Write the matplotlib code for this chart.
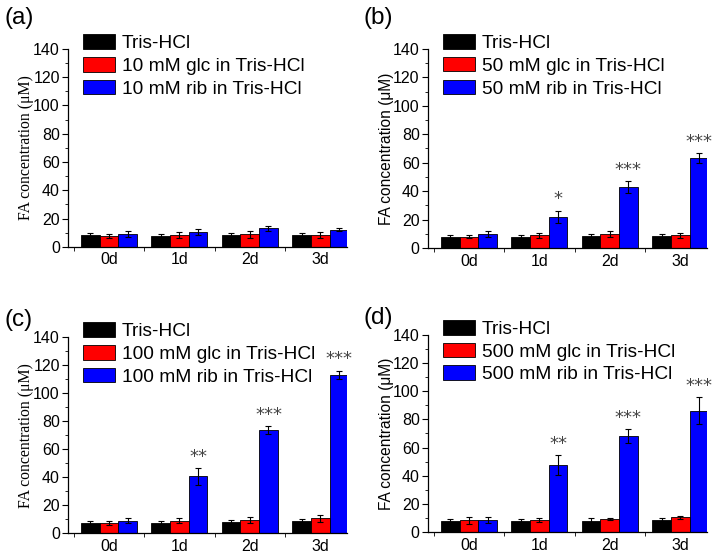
import numpy as np
import matplotlib.pyplot as plt
from matplotlib.ticker import MultipleLocator, FixedLocator, NullFormatter

plt.rcParams['font.family'] = ['Liberation Sans', 'DejaVu Sans']

days = ['0d', '1d', '2d', '3d']
panels = ['(a)', '(b)', '(c)', '(d)']
concs = ['10', '50', '100', '500']

# Tris-HCl control
tris = [[8.2, 8.0, 8.5, 8.5],
        [8.0, 7.8, 8.2, 8.5],
        [7.5, 7.5, 8.0, 8.5],
        [8.0, 8.0, 8.0, 8.5]]
tris_err = [[1.5, 1.2, 1.5, 1.5],
            [1.2, 1.5, 1.5, 1.5],
            [1.5, 1.5, 1.5, 1.5],
            [1.0, 1.0, 2.0, 1.5]]

# glucose
glc = [[7.5, 8.5, 9.0, 8.5],
       [8.0, 8.8, 9.6, 8.8],
       [7.5, 9.0, 9.5, 10.5],
       [8.5, 8.5, 9.0, 10.5]]
glc_err = [[1.5, 2.0, 2.5, 2.0],
           [1.2, 2.0, 2.0, 1.5],
           [1.5, 1.5, 2.0, 2.5],
           [2.5, 1.5, 0.7, 1.2]]

# ribose
rib = [[9.2, 10.5, 13.0, 12.0],
       [9.8, 21.8, 43.0, 63.0],
       [9.0, 40.5, 73.5, 113.0],
       [8.5, 47.5, 68.0, 86.0]]
rib_err = [[2.0, 2.0, 2.0, 1.0],
           [2.0, 4.5, 4.0, 3.5],
           [2.0, 6.0, 3.0, 3.0],
           [2.0, 7.0, 5.0, 9.5]]

stars = [['', '', '', ''],
         ['', '*', '***', '***'],
         ['', '**', '***', '***'],
         ['', '**', '***', '***']]

# axes boxes in figure fractions [left, bottom, width, height]
boxes = [[0.095, 0.556, 0.389, 0.356],
         [0.597, 0.554, 0.389, 0.358],
         [0.095, 0.041, 0.389, 0.353],
         [0.597, 0.043, 0.389, 0.355]]
label_pos = [(0.006, 0.968), (0.507, 0.968), (0.006, 0.425), (0.507, 0.428)]
ylabel_serif = [True, False, True, False]

fig = plt.figure(figsize=(7.17, 5.56), dpi=100)
x = np.arange(len(days))
w = 0.265

for i in range(4):
    ax = fig.add_axes(boxes[i])
    ekw = dict(elinewidth=0.8, capthick=0.8, ecolor='black')
    ax.bar(x - w, tris[i], w, yerr=tris_err[i], color='black', edgecolor='black',
           linewidth=0.6, capsize=2, error_kw=ekw, label='Tris-HCl')
    ax.bar(x, glc[i], w, yerr=glc_err[i], color='#ff0000', edgecolor='black',
           linewidth=0.6, capsize=2, error_kw=ekw, label=concs[i] + ' mM glc in Tris-HCl')
    ax.bar(x + w, rib[i], w, yerr=rib_err[i], color='#0000ff', edgecolor='black',
           linewidth=0.6, capsize=2, error_kw=ekw, label=concs[i] + ' mM rib in Tris-HCl')

    for j in range(4):
        if stars[i][j]:
            ax.text(x[j] + w, rib[i][j] + rib_err[i][j] + 1.5, stars[i][j],
                    ha='center', va='bottom', fontsize=13, color='#444444',
                    family='DejaVu Sans')

    ax.set_xlim(-0.58, 3.38)
    ax.set_ylim(0, 140)
    ax.yaxis.set_major_locator(MultipleLocator(20))
    ax.yaxis.set_minor_locator(MultipleLocator(10))
    ax.set_xticks(x)
    ax.set_xticklabels(days, fontsize=11.5)
    ax.xaxis.set_minor_locator(FixedLocator([-0.5, 0.5, 1.5, 2.5]))
    ax.xaxis.set_minor_formatter(NullFormatter())
    ax.tick_params(axis='x', which='major', length=0, pad=4)
    ax.tick_params(axis='x', which='minor', length=3, direction='out')
    ax.tick_params(axis='y', which='major', length=4, direction='out', labelsize=11.5, pad=2)
    ax.tick_params(axis='y', which='minor', length=2, direction='out')
    for s in ['top', 'right']:
        ax.spines[s].set_visible(False)
    for s in ['left', 'bottom']:
        ax.spines[s].set_linewidth(0.9)

    if ylabel_serif[i]:
        ax.set_ylabel('FA concentration (\u03bcM)', fontsize=11.3,
                      family=['Liberation Serif', 'DejaVu Serif'], labelpad=-1)
    else:
        ax.set_ylabel('FA concentration (\u03bcM)', fontsize=11.2, labelpad=-1)

    ax.legend(loc='upper left', bbox_to_anchor=(0.055, 1.075), frameon=False,
              fontsize=13.8, borderpad=0, borderaxespad=0, labelspacing=0.25,
              handlelength=1.65, handleheight=0.8, handletextpad=0.35)

    fig.text(label_pos[i][0], label_pos[i][1], panels[i], fontsize=17.5,
             ha='left', va='center')

fig.savefig('out.png', dpi=100)
